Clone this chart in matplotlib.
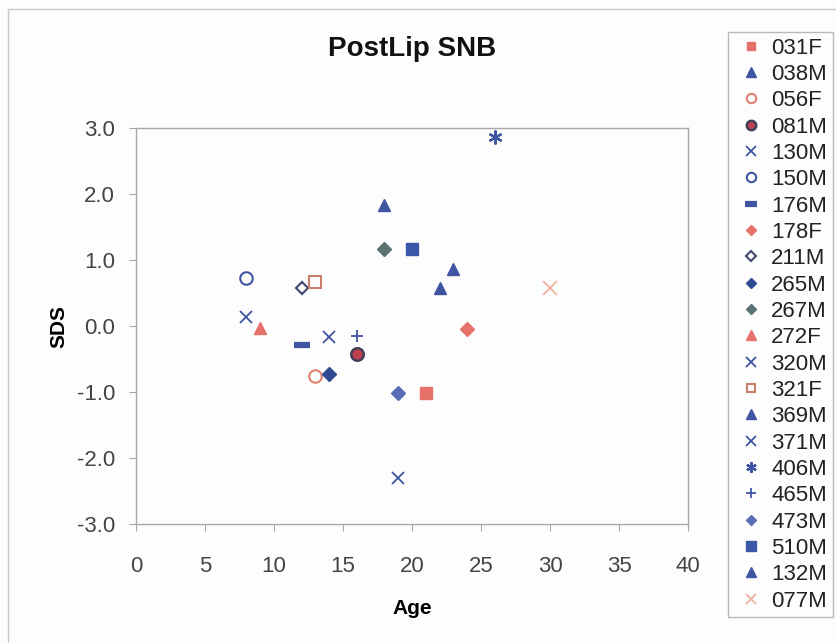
import matplotlib
matplotlib.use('Agg')
import matplotlib.pyplot as plt
from matplotlib.patches import Rectangle

plt.rcParams['font.family'] = ['Liberation Sans', 'DejaVu Sans']

# subjects, ages and SDS values
labels = ['031F', '038M', '056F', '081M', '130M', '150M', '176M', '178F', '211M',
          '265M', '267M', '272F', '320M', '321F', '369M', '371M', '406M', '465M',
          '473M', '510M', '132M', '077M']
age = [21, 18, 13, 16, 8, 8, 12, 24, 12, 14, 18, 9, 14, 13, 22, 19, 26, 16, 19, 20, 23, 30]
sds = [-1.02, 1.84, -0.76, -0.43, 0.14, 0.72, -0.29, -0.04, 0.58, -0.73, 1.16, -0.03,
       -0.17, 0.66, 0.57, -2.30, 2.86, -0.15, -1.02, 1.16, 0.86, 0.57]

blue = '#3f55a2'
red = '#e6706a'
# marker, face colour, edge colour, size, edge width
styles = [
    ('s', red, red, 8, 1),
    ('^', blue, blue, 9, 1),
    ('o', 'none', '#e08070', 9, 1.5),
    ('o', '#c04050', '#404058', 9, 1.8),
    ('x', blue, blue, 9, 1.3),
    ('o', 'none', blue, 9, 1.5),
    ('_', blue, blue, 11, 4.5),
    ('D', red, red, 7, 1),
    ('D', 'none', '#404a70', 6.5, 1.5),
    ('D', '#2f4a90', '#2f4a90', 7, 1),
    ('D', '#5a7272', '#5a7272', 7, 1),
    ('^', red, red, 9, 1),
    ('x', blue, blue, 9, 1.3),
    ('s', 'none', '#c8806a', 8, 1.5),
    ('^', blue, blue, 9, 1),
    ('x', blue, blue, 9, 1.3),
    ((6, 2, 0), blue, blue, 10, 1.6),
    ('+', blue, blue, 9, 1.3),
    ('D', '#5a6eb5', '#5a6eb5', 7, 1),
    ('s', '#3a58a8', '#3a58a8', 9, 1),
    ('^', blue, blue, 9, 1),
    ('x', '#f0b49c', '#f0b49c', 10, 1.3),
]

fig = plt.figure(figsize=(8.37, 6.43), dpi=100)
fig.patch.set_facecolor('#fdfdfd')
fig.patches.append(Rectangle((8 / 837, -0.1), 1.2, (643 - 9) / 643 + 0.1,
                             transform=fig.transFigure, fill=False,
                             edgecolor='#c8c8c8', lw=1))

ax = fig.add_axes([136 / 837, (643 - 524) / 643, 552 / 837, 396 / 643])
ax.set_facecolor('#fdfdfd')

for lab, x, y, st in zip(labels, age, sds, styles):
    m, fc, ec, ms, mew = st
    ax.plot([x], [y], linestyle='none', marker=m, markerfacecolor=fc,
            markeredgecolor=ec, markersize=ms, markeredgewidth=mew, label=lab)

ax.set_xlim(0, 40)
ax.set_ylim(-3, 3)
ax.set_xticks(range(0, 41, 5))
ax.set_yticks([-3, -2, -1, 0, 1, 2, 3])
ax.set_yticklabels(['%.1f' % v for v in [-3, -2, -1, 0, 1, 2, 3]])
for s in ax.spines.values():
    s.set_color('#a8a8a8')
    s.set_linewidth(1)
ax.tick_params(colors='#a8a8a8', labelcolor='#444444', labelsize=16, length=5)
ax.tick_params(axis='x', pad=18)
ax.tick_params(axis='y', pad=10)

ax.set_title('PostLip SNB', fontsize=20, fontweight='bold', pad=52, color='#111111')
ax.set_xlabel('Age', fontsize=15, fontweight='bold', labelpad=16)
ax.set_ylabel('SDS', fontsize=15, fontweight='bold', labelpad=6)

leg = fig.legend(loc='upper left', bbox_to_anchor=(728 / 837, (643 - 32) / 643),
                 fontsize=16, frameon=True, fancybox=False, borderpad=0.25,
                 labelspacing=0.24, handlelength=1.6, handletextpad=0.1,
                 borderaxespad=0, markerscale=0.75)
leg.get_frame().set_edgecolor('#a8a8a8')
leg.get_frame().set_facecolor('#fdfdfd')
for t in leg.get_texts():
    t.set_color('#222222')

fig.savefig('out.png', dpi=100, facecolor=fig.get_facecolor())
